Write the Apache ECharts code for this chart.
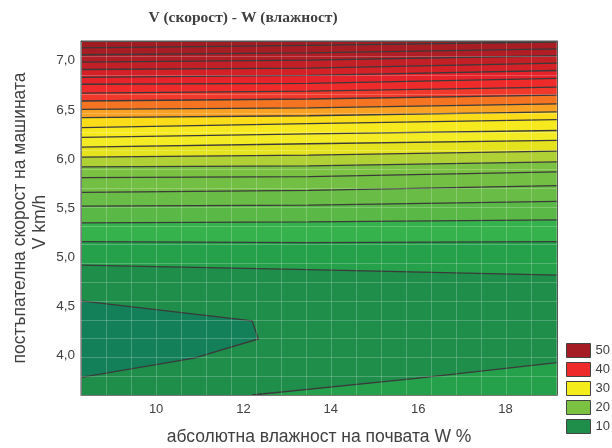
<!DOCTYPE html>
<html><head><meta charset="utf-8">
<script src="https://cdn.jsdelivr.net/npm/echarts@6/dist/echarts.min.js"></script>
<style>html,body{margin:0;padding:0;background:#fff}#c{width:612px;height:448px}</style>
</head><body><div id="c"></div>
<script>
// ---- data ----
const xTicks = [10, 12, 14, 16, 18];
const yTicks = [4.0, 4.5, 5.0, 5.5, 6.0, 6.5, 7.0];
const legendLevels = ['50', '40', '30', '20', '10'];
// contour levels (Z) of the roughly horizontal isolines
const levels = [10, 12, 14, 16, 18, 20, 22, 24, 26, 28, 30, 32, 34, 36, 38, 40, 42, 44, 46, 48, 50];
// W positions where each isoline was read
const wSamples = [8.28, 13.5, 19.18];
// V of each isoline at those W positions
const vAtLeft  = [4.92, 5.16, 5.35, 5.52, 5.66, 5.81, 5.92, 6.02, 6.12, 6.22, 6.32, 6.42, 6.505, 6.59, 6.67, 6.76, 6.83, 6.91, 6.985, 7.06, 7.13];
const vAtMid   = [4.875, 5.15, 5.36, 5.53, 5.68, 5.82, 5.93, 6.04, 6.155, 6.255, 6.36, 6.44, 6.52, 6.61, 6.69, 6.77, 6.85, 6.925, 7.005, 7.08, 7.155];
const vAtRight = [4.82, 5.16, 5.38, 5.57, 5.73, 5.87, 5.97, 6.08, 6.19, 6.29, 6.40, 6.48, 6.56, 6.65, 6.73, 6.82, 6.90, 6.975, 7.05, 7.12, 7.19];
// second branch of the level-10 isoline (bottom right)
const low10W = [12.20, 15.95, 19.18];
const low10V = [3.60, 3.77, 3.93];
// level-8 closed isoline (minimum region, bottom left)
const min8W = [8.28, 12.20, 12.34, 10.87, 8.28];
const min8V = [4.557, 4.354, 4.17, 3.975, 3.78];

// ---- styles ----
const bandBelow = ['#1f8e4b', '#24a14a', '#36b24c', '#5ab847', '#69bc45', '#73bf44', '#7bc242', '#b0d136', '#e4e31d', '#f3ec24', '#f6ea1f', '#fbdc18', '#f9a123', '#f47422', '#f0392a', '#ee2b2a', '#e6222a', '#d42027', '#c21f26', '#b01d25', '#a81d24'];
const topBand = '#a01c22';
const minBand = '#13805a';
const legendColors = ['#a51c24', '#ee2a2a', '#f5ec1c', '#7cc242', '#1f8e4b'];
const isoColor = '#3a3a3a';
const txt = '#404040';
const sans = "'Liberation Sans', Arial, sans-serif";

const series = [];
for (let i = levels.length - 1; i >= 0; i--) {
  series.push({
    type: 'line', name: 'z' + levels[i], silent: true, symbol: 'none',
    data: wSamples.map((w, k) => [w, [vAtLeft, vAtMid, vAtRight][k][i]]),
    lineStyle: {color: isoColor, width: 1.3},
    areaStyle: {color: bandBelow[i], opacity: 1, origin: 'start'},
    z: 2
  });
}
series.push({
  type: 'line', silent: true, symbol: 'none',
  data: low10W.map((w, k) => [w, low10V[k]]),
  lineStyle: {color: isoColor, width: 1.3},
  areaStyle: {color: bandBelow[1], opacity: 1, origin: 'start'},
  z: 2
});
series.push({
  type: 'custom', silent: true, clip: true, z: 2,
  data: [[min8W[0], min8V[0]]],
  renderItem: (params, api) => {
    const pts = min8W.map((w, k) => api.coord([w, min8V[k]]));
    return {type: 'group', children: [
      {type: 'polygon', shape: {points: pts}, style: {fill: minBand}},
      {type: 'polyline', shape: {points: pts}, style: {stroke: isoColor, lineWidth: 1.3, fill: null}}
    ]};
  }
});
legendLevels.forEach((n, i) => series.push({type: 'scatter', name: n, data: [], itemStyle: {color: legendColors[i], opacity: 1}}));

const chart = echarts.init(document.getElementById('c'), null, {renderer: 'canvas'});
chart.setOption({
  animation: false,
  backgroundColor: '#ffffff',
  grid: {left: 81, right: 55, top: 41, bottom: 53, show: true, backgroundColor: topBand, borderColor: '#555', borderWidth: 1, outerBoundsMode: 'none'},
  xAxis: [
    {type: 'value', min: 8.28, max: 19.18, z: 4,
     axisLine: {show: true, lineStyle: {color: '#555', width: 1}}, axisTick: {show: false}, splitLine: {show: false},
     axisLabel: {customValues: xTicks, color: txt, fontSize: 13, fontFamily: sans, margin: 8}},
    {type: 'value', position: 'top', min: 0, max: 19.02, interval: 1, z: 5,
     axisLine: {show: true, onZero: false, lineStyle: {color: '#555', width: 1}}, axisTick: {show: false}, axisLabel: {show: false},
     splitLine: {show: true, lineStyle: {color: 'rgba(255,255,255,0.22)', width: 1}}}
  ],
  yAxis: [
    {type: 'value', min: 3.6, max: 7.2, z: 4,
     axisLine: {show: true, lineStyle: {color: '#555', width: 1}}, axisTick: {show: false}, splitLine: {show: false},
     axisLabel: {customValues: yTicks, color: txt, fontSize: 13.5, fontFamily: sans, margin: 6,
       formatter: v => v.toFixed(1).replace('.', ',')}},
    {type: 'value', position: 'right', min: 0, max: 18.83, interval: 1, z: 5,
     axisLine: {show: true, onZero: false, lineStyle: {color: '#555', width: 1}}, axisTick: {show: false}, axisLabel: {show: false},
     splitLine: {show: true, lineStyle: {color: 'rgba(255,255,255,0.22)', width: 1}}}
  ],
  legend: {
    orient: 'vertical', left: 566, top: 343, itemWidth: 24, itemHeight: 14, itemGap: 4, padding: 0,
    icon: 'rect', selectedMode: false,
    textStyle: {color: txt, fontSize: 13, fontFamily: sans},
    data: legendLevels.map((n, i) => ({name: n, itemStyle: {color: legendColors[i], opacity: 1, borderColor: '#444', borderWidth: 1}}))
  },
  graphic: [
    {type: 'text', x: 243, y: 18, style: {text: 'V (скорост) - W (влажност)', align: 'center', verticalAlign: 'middle', fill: txt, font: "bold 15.5px 'Liberation Serif', 'Times New Roman', serif"}},
    {type: 'text', x: 319, y: 437, style: {text: 'абсолютна влажност на почвата W %', align: 'center', verticalAlign: 'middle', fill: txt, font: "17.5px " + sans}},
    {type: 'text', x: 20, y: 218, rotation: Math.PI / 2, style: {text: 'постъпателна скорост на машината', align: 'center', verticalAlign: 'middle', fill: txt, font: "17.5px " + sans}},
    {type: 'text', x: 40, y: 222, rotation: Math.PI / 2, style: {text: 'V km/h', align: 'center', verticalAlign: 'middle', fill: txt, font: "17.5px " + sans}}
  ],
  series: series
});
</script></body></html>
